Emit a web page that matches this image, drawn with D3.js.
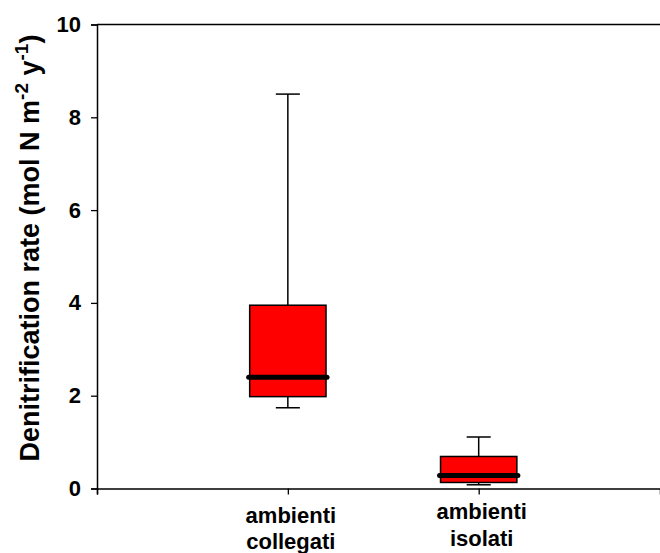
<!DOCTYPE html>
<html>
<head>
<meta charset="utf-8">
<script src="https://cdn.jsdelivr.net/npm/d3@7"></script>
<style>
  body { margin: 0; background: #fff; }
  svg { display: block; font-family: "Liberation Sans", Arial, sans-serif; font-weight: bold; }
</style>
</head>
<body>
<svg id="chart"></svg>
<script>
// box plot values
const categories = [['ambienti', 'collegati'], ['ambienti', 'isolati']];
const categoryPos = [1, 2];
const whiskerLow = [1.74, 0.08];
const quartile1 = [1.98, 0.13];
const medians = [2.40, 0.28];
const quartile3 = [3.95, 0.69];
const whiskerHigh = [8.50, 1.11];
const yTicks = [0, 2, 4, 6, 8, 10];

const width = 660, height = 553;
const margin = { top: 24.5, left: 97, bottom: 64.5 };

const svg = d3.select('#chart')
    .attr('width', width)
    .attr('height', height);

const xScale = d3.scaleLinear().domain([0, 2.95]).range([margin.left, width]);
const yScale = d3.scaleLinear().domain([0, 10]).range([height - margin.bottom, margin.top]);

const boxes = categories.map((c, i) => ({
    pos: categoryPos[i],
    lo: whiskerLow[i], q1: quartile1[i], med: medians[i], q3: quartile3[i], hi: whiskerHigh[i]
}));

const halfBox = 0.2, halfCap = 0.063;

// whiskers
const g = svg.append('g').attr('class', 'boxes');
g.selectAll('.whisker')
    .data(boxes.flatMap(d => [[d.pos, d.q3, d.hi], [d.pos, d.q1, d.lo]]))
    .join('line')
    .attr('x1', d => xScale(d[0])).attr('x2', d => xScale(d[0]))
    .attr('y1', d => yScale(d[1])).attr('y2', d => yScale(d[2]))
    .attr('stroke', '#000').attr('stroke-width', 1.5);

g.selectAll('.cap')
    .data(boxes.flatMap(d => [[d.pos, d.hi], [d.pos, d.lo]]))
    .join('line')
    .attr('x1', d => xScale(d[0] - halfCap)).attr('x2', d => xScale(d[0] + halfCap))
    .attr('y1', d => yScale(d[1])).attr('y2', d => yScale(d[1]))
    .attr('stroke', '#000').attr('stroke-width', 1.5);

g.selectAll('.box')
    .data(boxes)
    .join('rect')
    .attr('x', d => xScale(d.pos - halfBox))
    .attr('width', d => xScale(d.pos + halfBox) - xScale(d.pos - halfBox))
    .attr('y', d => yScale(d.q3))
    .attr('height', d => yScale(d.q1) - yScale(d.q3))
    .attr('fill', '#ff0000')
    .attr('stroke', '#000')
    .attr('stroke-width', 1.5);

g.selectAll('.median')
    .data(boxes)
    .join('line')
    .attr('x1', d => xScale(d.pos - halfBox) - 1)
    .attr('x2', d => xScale(d.pos + halfBox) + 1)
    .attr('y1', d => yScale(d.med)).attr('y2', d => yScale(d.med))
    .attr('stroke', '#000').attr('stroke-width', 5)
    .attr('stroke-linecap', 'round');

// axes
const yAxis = d3.axisLeft(yScale).tickValues(yTicks).tickSize(6).tickPadding(10);
const yAxisG = svg.append('g')
    .attr('transform', `translate(${margin.left},0)`)
    .call(yAxis);
yAxisG.selectAll('text').attr('font-size', 22).attr('font-family', '"Liberation Sans", Arial, sans-serif').attr('fill', '#000');

const xAxis = d3.axisBottom(xScale).tickValues([0].concat(categoryPos)).tickSize(6).tickFormat('');
const xAxisG = svg.append('g')
    .attr('transform', `translate(0,${yScale(0)})`)
    .call(xAxis);

svg.selectAll('.domain').attr('stroke', '#000').attr('stroke-width', 1.5);
svg.selectAll('.tick line').attr('stroke', '#000').attr('stroke-width', 1.3);

// top frame line
svg.append('line')
    .attr('x1', margin.left).attr('x2', width)
    .attr('y1', yScale(10)).attr('y2', yScale(10))
    .attr('stroke', '#000').attr('stroke-width', 1.5);

// category labels
const labelOffsets = [[34, 60], [30, 57]];
categories.forEach((lines, i) => {
    lines.forEach((t, j) => {
        svg.append('text')
            .attr('x', xScale(categoryPos[i]) + 3)
            .attr('y', yScale(0) + labelOffsets[i][j])
            .attr('text-anchor', 'middle')
            .attr('font-size', 22)
            .attr('fill', '#000')
            .text(t);
    });
});

// y axis title with superscripts
const title = svg.append('text')
    .attr('transform', 'translate(39,248) rotate(-90)')
    .attr('text-anchor', 'middle')
    .attr('font-size', 27)
    .attr('fill', '#000');
title.append('tspan').text('Denitrification rate (mol N m');
title.append('tspan').attr('font-size', 19).attr('dy', -11).text('-2');
title.append('tspan').attr('dy', 11).text(' y');
title.append('tspan').attr('font-size', 19).attr('dy', -11).text('-1');
title.append('tspan').attr('dy', 11).text(')');
</script>
</body>
</html>
